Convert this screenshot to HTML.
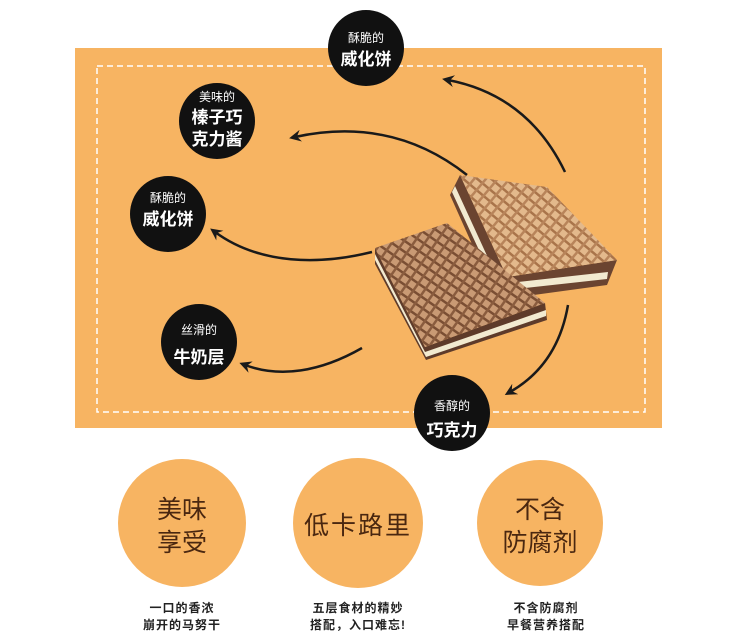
<!DOCTYPE html>
<html><head><meta charset="utf-8"><style>
body{margin:0;width:730px;height:635px;background:#fff;overflow:hidden;font-family:"Liberation Sans","Noto Sans CJK SC",sans-serif}
</style></head><body>
<svg width="730" height="635" viewBox="0 0 730 635" xmlns="http://www.w3.org/2000/svg" font-family="Liberation Sans, Noto Sans CJK SC, sans-serif">
<defs>
<pattern id="g1" width="9" height="9" patternUnits="userSpaceOnUse" patternTransform="rotate(40)">
<rect width="9" height="9" fill="#e3b98c"/><rect x="0" y="0" width="9" height="2.5" fill="#a9744a"/><rect x="0" y="0" width="2.5" height="9" fill="#b8845a"/></pattern>
<pattern id="g2" width="9" height="9" patternUnits="userSpaceOnUse" patternTransform="rotate(35)">
<rect width="9" height="9" fill="#c99a74"/><rect x="0" y="0" width="9" height="2.5" fill="#7a4e33"/><rect x="0" y="0" width="2.5" height="9" fill="#8a5c3e"/></pattern>
<marker id="ah" markerWidth="12" markerHeight="12" refX="6" refY="6" orient="auto" markerUnits="userSpaceOnUse"><path d="M0,0 L12,6 L0,12 L4,6 Z" fill="#1a1a1a"/></marker>
</defs>
<rect x="75" y="48" width="587" height="380" fill="#f7b462"/>
<rect x="97" y="66" width="548" height="346" fill="none" stroke="#fff" stroke-width="1.5" stroke-dasharray="6,4"/>
<g fill="none" stroke="#1a1a1a" stroke-width="2.5">
<path d="M565,172 C540,120 500,90 448,80" marker-end="url(#ah)"/>
<path d="M467,175 C410,130 350,125 295,137" marker-end="url(#ah)"/>
<path d="M372,252 C320,265 260,265 215,232" marker-end="url(#ah)"/>
<path d="M362,348 C320,372 280,378 245,365" marker-end="url(#ah)"/>
<path d="M568,305 C562,340 545,372 510,392" marker-end="url(#ah)"/>
</g>
<!-- back waffle -->
<polygon points="460,175 450,195 497,300 607,285 617,260 507,277" fill="#6b4430"/>
<polygon points="455,186 500,284 608,272 607,279 498,291 452,192" fill="#f2ead0"/>
<polygon points="460,175 547,187 617,260 507,277" fill="url(#g1)"/>
<!-- front waffle -->
<polygon points="375,248 375,264 426,360 547,320 545,303 425,347" fill="#5e3b2a"/>
<polygon points="375,254 425,352 546,310 546,316 426,357 375,260" fill="#f2ead0"/>
<polygon points="375,248 447,223 545,303 425,347" fill="url(#g2)"/>
<g fill="#111">
<circle cx="366" cy="48" r="38"/><circle cx="217" cy="121" r="38"/><circle cx="168" cy="214" r="38"/><circle cx="199" cy="342" r="38"/><circle cx="452" cy="413" r="38"/>
</g>
<g fill="#fff" text-anchor="middle" font-weight="bold">
<text x="366" y="42" font-size="12" font-weight="normal">酥脆的</text><text x="366" y="65" font-size="17">威化饼</text>
<text x="217" y="101" font-size="12" font-weight="normal">美味的</text><text x="217" y="123" font-size="17">榛子巧</text><text x="217" y="145" font-size="17">克力酱</text>
<text x="168" y="202" font-size="12" font-weight="normal">酥脆的</text><text x="168" y="225" font-size="17">威化饼</text>
<text x="199" y="334" font-size="12" font-weight="normal">丝滑的</text><text x="199" y="363" font-size="17">牛奶层</text>
<text x="452" y="410" font-size="12" font-weight="normal">香醇的</text><text x="452" y="436" font-size="17">巧克力</text>
</g>
<g fill="#f7b462"><circle cx="182" cy="523" r="64"/><circle cx="358" cy="523" r="65"/><circle cx="540" cy="523" r="63"/></g>
<g fill="#4a2710" text-anchor="middle" font-size="25">
<text x="182" y="518">美味</text><text x="182" y="551">享受</text>
<text x="358" y="534" letter-spacing="2">低卡路里</text>
<text x="540" y="518">不含</text><text x="540" y="551">防腐剂</text>
</g>
<g fill="#222" text-anchor="middle" font-size="12" font-weight="bold" letter-spacing="1">
<text x="182" y="612">一口的香浓</text><text x="182" y="629">崩开的马努干</text>
<text x="358" y="612">五层食材的精妙</text><text x="358" y="629">搭配，入口难忘!</text>
<text x="546" y="612">不含防腐剂</text><text x="546" y="629">早餐营养搭配</text>
</g>
</svg>
</body></html>
